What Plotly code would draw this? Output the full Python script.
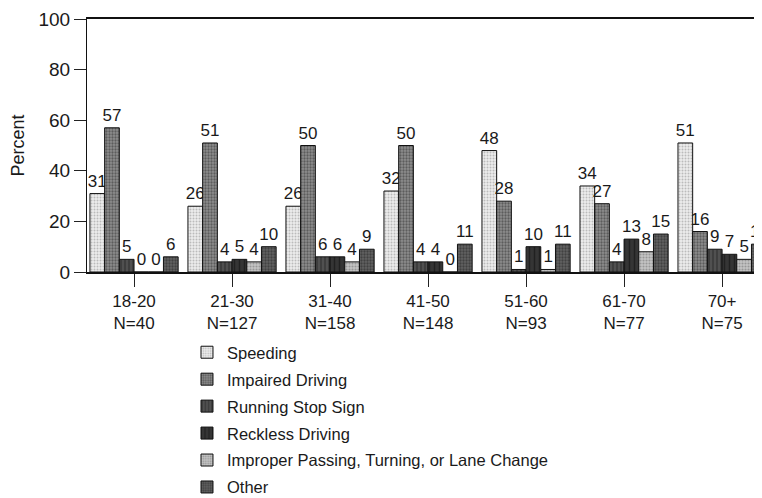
import plotly.graph_objects as go

# Data
age_groups = ["18-20", "21-30", "31-40", "41-50", "51-60", "61-70", "70+"]
group_sizes = [40, 127, 158, 148, 93, 77, 75]
violation_types = [
    "Speeding",
    "Impaired Driving",
    "Running Stop Sign",
    "Reckless Driving",
    "Improper Passing, Turning, or Lane Change",
    "Other",
]
speeding = [31, 26, 26, 32, 48, 34, 51]
impaired = [57, 51, 50, 50, 28, 27, 16]
stop_sign = [5, 4, 6, 4, 1, 4, 9]
reckless = [0, 5, 6, 4, 10, 13, 7]
improper = [0, 4, 4, 0, 1, 8, 5]
other = [6, 10, 9, 11, 11, 15, 11]

series = [speeding, impaired, stop_sign, reckless, improper, other]

# grayscale stipple look of the printed chart: (background, foreground, shape, size, solidity)
styles = [
    ("#ececec", "#8a8a8a", ".", 3, 0.35),
    ("#8e8e8e", "#2a2a2a", ".", 3, 0.45),
    ("#505050", "#1a1a1a", "|", 4, 0.35),
    ("#353535", "#0e0e0e", "|", 5, 0.3),
    ("#c4c4c4", "#6a6a6a", ".", 3, 0.4),
    ("#626262", "#202020", ".", 3, 0.45),
]

tick_text = [f"{a}<br>N={n}" for a, n in zip(age_groups, group_sizes)]

fig = go.Figure()
for name, vals, (bg, fg, shape, size, sol) in zip(violation_types, series, styles):
    fig.add_trace(go.Bar(
        x=age_groups,
        y=vals,
        name=name,
        legendgroup=name,
        text=vals,
        textposition="outside",
        constraintext="none",
        cliponaxis=False,
        textfont=dict(size=17, color="#1a1a1a"),
        marker=dict(
            color=bg,
            line=dict(color="#111111", width=1),
            pattern=dict(shape=shape, fgcolor=fg, bgcolor=bg, size=size, solidity=sol),
        ),
    ))

# the page body adds an 8px offset, so margins are shifted to compensate;
# the plot area runs past the right edge like the cropped original
fig.update_layout(
    width=762,
    height=498,
    margin=dict(l=79, r=0, t=11, b=234, autoexpand=False),
    paper_bgcolor="white",
    plot_bgcolor="white",
    barmode="group",
    bargap=0.1,
    bargroupgap=0,
    font=dict(family="Liberation Sans, Arial", size=16, color="#1a1a1a"),
    xaxis=dict(
        range=[-0.48, 6.489],
        tickmode="array",
        tickvals=age_groups,
        ticktext=tick_text,
        ticks="outside",
        ticklen=13,
        tickcolor="#222",
        showline=True,
        linecolor="#111",
        linewidth=1.5,
        mirror=True,
        showgrid=False,
        tickfont=dict(size=17),
    ),
    yaxis=dict(
        range=[0, 100],
        tickvals=[0, 20, 40, 60, 80, 100],
        ticks="outside",
        ticklen=12,
        tickcolor="#222",
        showline=True,
        linecolor="#111",
        showgrid=False,
        zeroline=False,
        tickfont=dict(size=19),
        title=dict(text="Percent", font=dict(size=18), standoff=12),
    ),
    legend=dict(
        orientation="v",
        x=0.1464,
        xanchor="left",
        y=-0.249,
        yanchor="top",
        tracegroupgap=2.5,
        font=dict(size=16.5),
        bgcolor="rgba(0,0,0,0)",
    ),
)

fig.write_html("out.html")
